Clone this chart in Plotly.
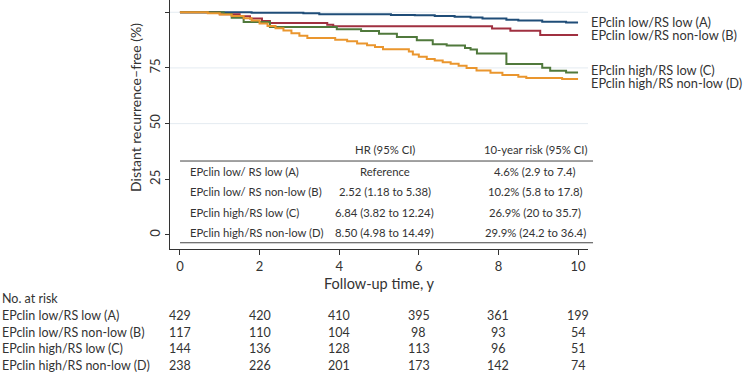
import plotly.graph_objects as go

FONT = "Lato"
TXT = "#333333"

# ---- Kaplan-Meier step data ----
t_A = [0, 1.8, 3.1, 3.5, 5.3, 5.9, 6.4, 6.9, 7.3, 7.6, 8.2, 8.5, 9.1, 9.7, 10]
s_A = [100, 99.8, 99.5, 99.1, 98.8, 98.6, 98.3, 98.0, 97.6, 97.2, 96.6, 96.3, 95.7, 95.4, 95.4]

t_B = [0, 1.0, 1.5, 1.76, 2.06, 2.26, 3.7, 3.85, 7.84, 8.3, 9.05, 10]
s_B = [100, 99.1, 98.2, 97.2, 96.1, 95.2, 94.4, 93.7, 92.7, 91.7, 89.8, 89.8]

t_C = [0, 1.1, 1.3, 1.6, 2.26, 3.94, 4.55, 5.0, 5.45, 5.95, 6.35, 6.7, 7.16, 7.3, 7.46,
       8.2, 9.1, 9.3, 9.7, 10]
s_C = [100, 99.2, 97.5, 95.6, 93.4, 92.4, 91.6, 90.3, 88.9, 87.4, 85.6, 85.1, 84.0, 83.3, 81.5,
       76.8, 75.1, 73.7, 73.0, 73.0]

t_D = [0, 0.7, 1.0, 1.3, 1.6, 1.8, 2.0, 2.2, 2.4, 2.6, 2.8, 3.0, 3.2, 3.9, 4.2, 4.45, 4.7,
       4.9, 5.1, 5.75, 5.85, 6.0, 6.2, 6.4, 6.6, 6.8, 7.0, 7.2, 7.45, 7.8, 8.1, 8.5, 8.7, 9.6, 10]
s_D = [100, 99.5, 99.0, 98.3, 97.3, 96.3, 95.0, 93.8, 92.8, 91.8, 90.6, 89.4, 88.4, 87.6, 87.0,
       86.0, 85.2, 84.4, 83.4, 82.4, 81.0, 80.0, 79.0, 78.3, 77.6, 76.9, 76.0, 75.0, 73.8, 72.8,
       71.8, 71.0, 70.5, 70.0, 70.0]

groups = ["EPclin low/RS low (A)", "EPclin low/RS non-low (B)",
          "EPclin high/RS low (C)", "EPclin high/RS non-low (D)"]
colors = ["#1f4d78", "#a03040", "#50793c", "#ea962e"]
curve_label_y = [95.6, 89.8, 74.1, 68.3]

# ---- HR table ----
hr_labels = ["EPclin low/ RS low (A)", "EPclin low/ RS non-low (B)",
             "EPclin high/RS low (C)", "EPclin high/RS non-low (D)"]
hr_values = ["Reference", "2.52 (1.18 to 5.38)", "6.84 (3.82 to 12.24)", "8.50 (4.98 to 14.49)"]
risk_values = ["4.6% (2.9 to 7.4)", "10.2% (5.8 to 17.8)", "26.9% (20 to 35.7)", "29.9% (24.2 to 36.4)"]
hr_header = "HR (95% CI)"
risk_header = "10-year risk (95% CI)"
table_row_y = [28.7, 19.3, 10.3, 0.9]
table_header_y = 38.2

# ---- Number at risk ----
risk_times = [0, 2, 4, 6, 8, 10]
nrisk_A = [429, 420, 410, 395, 361, 199]
nrisk_B = [117, 110, 104, 98, 93, 54]
nrisk_C = [144, 136, 128, 113, 96, 51]
nrisk_D = [238, 226, 201, 173, 142, 74]
nrisk = [nrisk_A, nrisk_B, nrisk_C, nrisk_D]

x_ticks = [0, 2, 4, 6, 8, 10]
y_ticks = [0, 25, 50, 75, 100]
grid_y = [50, 75, 100]

fig = go.Figure()
for t, s, c, g in zip([t_A, t_B, t_C, t_D], [s_A, s_B, s_C, s_D], colors, groups):
    fig.add_trace(go.Scatter(x=t, y=s, mode="lines", line=dict(color=c, width=2, shape="hv"),
                             name=g, showlegend=False, hoverinfo="skip"))

shapes = []
for gy in grid_y:
    shapes.append(dict(type="line", xref="paper", yref="y", x0=0, x1=1, y0=gy, y1=gy,
                       line=dict(color="#e4ebf1", width=1), layer="below"))
# table rules
shapes.append(dict(type="line", xref="paper", yref="y", x0=0.024, x1=1.012, y0=33.2, y1=33.2,
                   line=dict(color="#444444", width=1)))
shapes.append(dict(type="line", xref="paper", yref="y", x0=0.024, x1=1.012, y0=-3.5, y1=-3.5,
                   line=dict(color="#444444", width=1)))

ann = []
# curve labels
for g, yy in zip(groups, curve_label_y):
    ann.append(dict(x=1.003, xref="paper", y=yy, yref="y", text=g, showarrow=False,
                    xanchor="left", yanchor="middle", font=dict(family=FONT, size=12.8, color=TXT)))
# HR table
tf = dict(family=FONT, size=11.3, color=TXT)
ann.append(dict(x=5.15, y=table_header_y, xref="x", yref="y", text=hr_header, showarrow=False,
                xanchor="center", font=tf))
ann.append(dict(x=8.92, y=table_header_y, xref="x", yref="y", text=risk_header, showarrow=False,
                xanchor="center", font=tf))
for lab, hv, rv, yy in zip(hr_labels, hr_values, risk_values, table_row_y):
    ann.append(dict(x=0.2, y=yy, xref="x", yref="y", text=lab, showarrow=False,
                    xanchor="left", font=tf))
    ann.append(dict(x=5.15, y=yy, xref="x", yref="y", text=hv, showarrow=False,
                    xanchor="center", font=tf))
    ann.append(dict(x=8.92, y=yy, xref="x", yref="y", text=rv, showarrow=False,
                    xanchor="center", font=tf))

# axis titles
ann.append(dict(x=0.5, y=-0.137, xref="paper", yref="paper", text="Follow-up time, y",
                showarrow=False, xanchor="center", yanchor="middle",
                font=dict(family=FONT, size=14.5, color=TXT)))
ann.append(dict(x=-0.084, y=0.57, xref="paper", yref="paper", text="Distant recurrence\u2013free (%)",
                showarrow=False, textangle=-90, xanchor="center", yanchor="middle",
                font=dict(family=FONT, size=14, color=TXT)))

# Number at risk table
rf = dict(family=FONT, size=12.5, color=TXT)
ann.append(dict(x=-170 / 418, y=-0.2, xref="paper", yref="paper", text="No. at risk",
                showarrow=False, xanchor="left", yanchor="middle", font=rf))
row_y = [-0.269, -0.334, -0.398, -0.466]
for g, vals, yy in zip(groups, nrisk, row_y):
    ann.append(dict(x=-170 / 418, y=yy, xref="paper", yref="paper", text=g,
                    showarrow=False, xanchor="left", yanchor="middle", font=rf))
    for tt, v in zip(risk_times, vals):
        ann.append(dict(x=tt, y=yy, xref="x", yref="paper", text=str(v), showarrow=False,
                        xanchor="center", yanchor="middle", font=rf))

fig.update_layout(
    width=748, height=373,
    margin=dict(l=170, r=160, t=0, b=124),
    paper_bgcolor="white", plot_bgcolor="white",
    shapes=shapes, annotations=ann, showlegend=False,
    xaxis=dict(range=[-0.25, 10.25], tickvals=x_ticks, showgrid=False, zeroline=False,
               showline=True, linecolor="#333333", linewidth=1, ticks="outside", ticklen=5,
               tickcolor="#333333", tickfont=dict(family=FONT, size=13, color=TXT)),
    yaxis=dict(range=[-6.3, 105.5], tickvals=y_ticks, showgrid=False, zeroline=False,
               showline=True, linecolor="#333333", linewidth=1, ticks="outside", ticklen=4,
               tickcolor="#333333", tickangle=-90, tickfont=dict(family=FONT, size=13, color=TXT)),
)

fig.write_html("out.html", config={"displayModeBar": False},
               post_script="document.body.style.margin='0';document.body.style.overflow='hidden';")
